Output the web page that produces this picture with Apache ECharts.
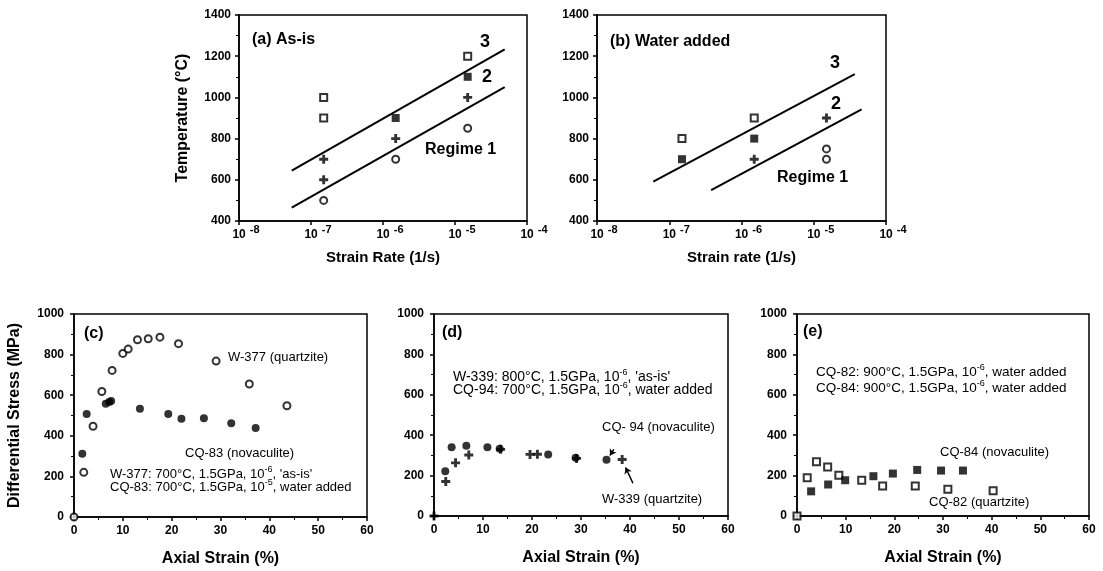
<!DOCTYPE html>
<html>
<head>
<meta charset="utf-8">
<script src="https://cdn.jsdelivr.net/npm/echarts@6/dist/echarts.min.js"></script>
<style>
html, body { margin: 0; background: #fff; }
#main { width: 1103px; height: 571px; }
</style>
</head>
<body>
<div id="main"></div>
<script>
// (a) as-is : [strain rate 1/s, temperature C]
const asIsOpenSq   = [[1.5e-7, 1000], [1.5e-7, 900], [1.5e-5, 1200]];
const asIsFilledSq = [[1.5e-6, 900], [1.5e-5, 1100]];
const asIsPlus     = [[1.5e-7, 700], [1.5e-7, 600], [1.5e-6, 800], [1.5e-5, 1000]];
const asIsCircle   = [[1.5e-7, 500], [1.5e-6, 700], [1.5e-5, 850]];
const asIsLine3    = [[5.4e-8, 645], [4.9e-5, 1233]];
const asIsLine2    = [[5.4e-8, 465], [4.9e-5, 1050]];

// (b) water added
const wetOpenSq   = [[1.5e-7, 800], [1.5e-6, 900]];
const wetFilledSq = [[1.5e-7, 700], [1.5e-6, 800]];
const wetPlus     = [[1.5e-6, 700], [1.5e-5, 900]];
const wetCircle   = [[1.5e-5, 750], [1.5e-5, 700]];
const wetLine3    = [[6.0e-8, 591], [3.7e-5, 1113]];
const wetLine2    = [[3.8e-7, 550], [4.6e-5, 942]];

// (c) [axial strain %, differential stress MPa]
const w377 = [[0, 0], [2.0, 220], [3.9, 447], [5.7, 618], [7.8, 722], [10.0, 806], [11.1, 827],
  [13.0, 873], [15.2, 878], [17.6, 886], [21.4, 854], [29.1, 768], [35.9, 655], [43.6, 548]];
const cq83 = [[1.7, 311], [2.6, 507], [6.5, 558], [7.2, 566], [7.6, 572], [13.5, 533], [19.3, 508],
  [22.0, 484], [26.6, 487], [32.2, 462], [37.2, 438]];

// (d)
const w339 = [[0, 0], [2.4, 171], [4.4, 263], [7.1, 302], [13.6, 330], [19.6, 305], [21.1, 306],
  [29.1, 285], [38.4, 280]];
const cq94 = [[2.3, 222], [3.6, 340], [6.6, 348], [10.9, 340], [13.4, 333], [23.3, 304],
  [28.9, 288], [35.2, 279]];
const cq94Arrow = [[36.7, 330], [35.9, 300]];
const w339Arrow = [[40.6, 162], [39.1, 240]];

// (e)
const cq82 = [[0, 0], [2.1, 189], [4.0, 268], [6.3, 243], [8.6, 202], [13.3, 177], [17.6, 149],
  [24.3, 149], [31.0, 132], [40.3, 125]];
const cq84 = [[2.9, 122], [6.4, 156], [9.9, 177], [15.7, 197], [19.7, 210], [24.7, 228],
  [29.6, 225], [34.1, 225]];

const FONT = 'Liberation Sans, Arial, sans-serif';
const PLUS = 'path://M0,3.4H10V6.6H0Z M3.4,0H6.6V10H3.4Z';

function pts(g, data, kind) {
  const s = { type: 'scatter', xAxisIndex: g, yAxisIndex: g, data: data, symbolSize: 7, z: 5 };
  if (kind === 'openSq') { s.symbol = 'rect'; s.itemStyle = { color: '#fff', borderColor: '#000', borderWidth: 2 }; }
  if (kind === 'fillSq') { s.symbol = 'rect'; s.symbolSize = 8; s.itemStyle = { color: '#000' }; }
  if (kind === 'openC')  { s.symbol = 'circle'; s.itemStyle = { color: '#fff', borderColor: '#000', borderWidth: 2 }; }
  if (kind === 'fillC')  { s.symbol = 'circle'; s.symbolSize = 8; s.itemStyle = { color: '#000' }; }
  if (kind === 'plus')   { s.symbol = PLUS; s.symbolSize = 9; s.itemStyle = { color: '#000' }; }
  return s;
}
function bound(g, data) {
  return { type: 'line', xAxisIndex: g, yAxisIndex: g, data: data, symbol: 'none',
    lineStyle: { color: '#000', width: 2 }, z: 3 };
}

const axisLine = { show: true, lineStyle: { color: '#000', width: 1.5 } };
const axisTick = { show: true, length: 4, lineStyle: { color: '#000', width: 1.5 } };
const minorTick = { show: true, splitNumber: 2, length: 3, lineStyle: { color: '#000', width: 1 } };
const tickFont = { color: '#000', fontFamily: FONT, fontWeight: 'bold', fontSize: 12, formatter: v => String(v) };
const nameFont = { color: '#000', fontFamily: FONT, fontWeight: 'bold', fontSize: 16 };

function logX(g, name) {
  return {
    gridIndex: g, type: 'log', logBase: 10, min: 1e-8, max: 1e-4,
    axisLine: axisLine, axisTick: axisTick, splitLine: { show: false },
    axisLabel: {
      margin: 3,
      formatter: v => '{a|10}{s|' + Math.round(Math.log10(v)) + '}',
      rich: {
        a: { fontFamily: FONT, fontWeight: 'bold', fontSize: 12, color: '#000', padding: [5, 0, 0, 14] },
        s: { fontFamily: FONT, fontWeight: 'bold', fontSize: 11, color: '#000', padding: [0, 0, 6, 4] }
      }
    },
    name: name, nameLocation: 'middle', nameGap: 29, nameTextStyle: Object.assign({}, nameFont, { fontSize: 15 })
  };
}
function tempY(g, name) {
  return {
    gridIndex: g, type: 'value', min: 400, max: 1400, interval: 200,
    axisLine: axisLine, axisTick: axisTick, minorTick: minorTick, splitLine: { show: false },
    axisLabel: Object.assign({ margin: 8 }, tickFont),
    name: name, nameLocation: 'middle', nameGap: 48, nameTextStyle: nameFont
  };
}
function strainX(g) {
  return {
    gridIndex: g, type: 'value', min: 0, max: 60, interval: 10,
    axisLine: axisLine, axisTick: axisTick, minorTick: minorTick, splitLine: { show: false },
    axisLabel: Object.assign({ margin: 8 }, tickFont),
    name: 'Axial Strain (%)', nameLocation: 'middle', nameGap: 34, nameTextStyle: nameFont
  };
}
function stressY(g, name) {
  return {
    gridIndex: g, type: 'value', min: 0, max: 1000, interval: 200,
    axisLine: axisLine, axisTick: axisTick, minorTick: minorTick, splitLine: { show: false },
    axisLabel: Object.assign({ margin: 10 }, tickFont),
    name: name, nameLocation: 'middle', nameGap: 51, nameTextStyle: nameFont
  };
}

function txt(x, y, text, size, bold) {
  return { type: 'text', x: x, y: y, z: 10, style: { text: text, fill: '#000',
    font: (bold ? 'bold ' : '') + size + 'px ' + FONT, verticalAlign: 'middle', align: 'left' } };
}
function supTxt(x, y, pre, exp, post, size) {
  return { type: 'text', x: x, y: y, z: 10, style: {
    text: '{n|' + pre + '}{s|' + exp + '}{n|' + post + '}', verticalAlign: 'middle', align: 'left',
    rich: {
      n: { fontFamily: FONT, fontSize: size, color: '#000' },
      s: { fontFamily: FONT, fontSize: 9, color: '#000', padding: [0, 0, 8, 0] }
    } } };
}

const grid = { show: true, borderColor: '#000', borderWidth: 1.5, backgroundColor: 'transparent' };

const chart = echarts.init(document.getElementById('main'));
chart.setOption({
  animation: false,
  backgroundColor: '#fff',
  grid: [
    Object.assign({ left: 239, top: 15, width: 288, height: 206 }, grid),
    Object.assign({ left: 597, top: 15, width: 289, height: 206 }, grid),
    Object.assign({ left: 74, top: 314, width: 293, height: 203 }, grid),
    Object.assign({ left: 434, top: 314, width: 294, height: 202 }, grid),
    Object.assign({ left: 797, top: 314, width: 292, height: 202 }, grid)
  ],
  xAxis: [logX(0, 'Strain Rate (1/s)'), logX(1, 'Strain rate (1/s)'), strainX(2), strainX(3), strainX(4)],
  yAxis: [tempY(0, 'Temperature (°C)'), tempY(1, ''), stressY(2, 'Differential Stress (MPa)'), stressY(3, ''), stressY(4, '')],
  series: [
    bound(0, asIsLine3), bound(0, asIsLine2),
    pts(0, asIsOpenSq, 'openSq'), pts(0, asIsFilledSq, 'fillSq'), pts(0, asIsPlus, 'plus'), pts(0, asIsCircle, 'openC'),
    bound(1, wetLine3), bound(1, wetLine2),
    pts(1, wetOpenSq, 'openSq'), pts(1, wetFilledSq, 'fillSq'), pts(1, wetPlus, 'plus'), pts(1, wetCircle, 'openC'),
    pts(2, w377, 'openC'), pts(2, cq83, 'fillC'),
    pts(3, w339, 'plus'),
    Object.assign(pts(3, cq94, 'fillC'), {
      markLine: {
        silent: true, symbol: ['none', 'arrow'], symbolSize: 6, animation: false,
        label: { show: false },
        lineStyle: { color: '#000', width: 1.5, type: 'solid' },
        data: [
          [{ coord: cq94Arrow[0] }, { coord: cq94Arrow[1] }],
          [{ coord: w339Arrow[0] }, { coord: w339Arrow[1] }]
        ]
      }
    }),
    pts(4, cq82, 'openSq'), pts(4, cq84, 'fillSq')
  ],
  graphic: [
    txt(252, 40, '(a) As-is', 16, true),
    txt(480, 42, '3', 18, true),
    txt(482, 77, '2', 18, true),
    txt(425, 150, 'Regime 1', 16, true),
    txt(610, 42, '(b) Water added', 16, true),
    txt(830, 63, '3', 18, true),
    txt(831, 104, '2', 18, true),
    txt(777, 178, 'Regime 1', 16, true),

    txt(84, 334, '(c)', 16, true),
    txt(228, 357, 'W-377 (quartzite)', 13, false),
    txt(185, 453, 'CQ-83 (novaculite)', 13, false),
    supTxt(110, 474, 'W-377: 700°C, 1.5GPa, 10', '-6', ", 'as-is'", 13),
    supTxt(110, 487, 'CQ-83: 700°C, 1.5GPa, 10', '-5', ', water added', 13),

    txt(442, 333, '(d)', 16, true),
    supTxt(453, 377, 'W-339: 800°C, 1.5GPa, 10', '-6', ", 'as-is'", 14),
    supTxt(453, 390, 'CQ-94: 700°C, 1.5GPa, 10', '-6', ', water added', 14),
    txt(602, 427, 'CQ- 94 (novaculite)', 13, false),
    txt(602, 499, 'W-339 (quartzite)', 13, false),

    txt(803, 332, '(e)', 16, true),
    supTxt(816, 372, 'CQ-82: 900°C, 1.5GPa, 10', '-6', ', water added', 13.5),
    supTxt(816, 388, 'CQ-84: 900°C, 1.5GPa, 10', '-6', ', water added', 13.5),
    txt(940, 452, 'CQ-84 (novaculite)', 13, false),
    txt(929, 502, 'CQ-82 (quartzite)', 13, false)
  ]
});
</script>
</body>
</html>
